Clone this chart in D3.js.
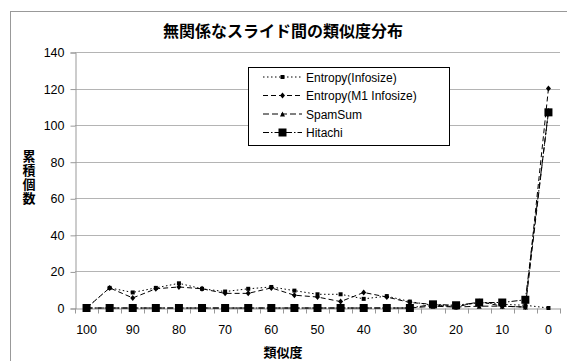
<!DOCTYPE html>
<html>
<head>
<meta charset="utf-8">
<script src="https://cdn.jsdelivr.net/npm/d3@7"></script>
<style>
  body { margin: 0; background: #fff; }
  text { font-family: "Liberation Sans", Arial, sans-serif; }
  .jp { font-family: "Noto Sans CJK JP", sans-serif; font-weight: bold; }
</style>
</head>
<body>
<svg id="chart" width="567" height="361"></svg>
<script>
// data
const categories = ['100', '95', '90', '85', '80', '75', '70', '65', '60', '55', '50', '45', '40', '35', '30', '25', '20', '15', '10', '5', '0']
const xLabels = ['100', '90', '80', '70', '60', '50', '40', '30', '20', '10', '0']
const entropyInfo = [0, 11, 8.5, 11, 13.5, 10.5, 9, 10.5, 11.5, 9.5, 7.5, 7.5, 5, 6.5, 3.5, 1.5, 1, 3, 2, 1.5, 0]
const entropyM1 = [0, 11, 5.5, 10.5, 11.5, 10.5, 8, 8, 11, 7, 6, 3.5, 8.5, 6, 3, 2, 0.5, 3.5, 1, 0.5, 120]
const spamSum = [0, 0, 0, 0, 0, 0, 0, 0, 0, 0, 0, 0, 0, 0, 0, 1, 0.5, 1, 1, 0.5, 108]
const hitachi = [0, 0, 0, 0, 0, 0, 0, 0, 0, 0, 0, 0, 0, 0, 0, 2, 1.5, 3, 3, 4.5, 107]
const yTicks = [0, 20, 40, 60, 80, 100, 120, 140]

const series = [
  { name: 'Entropy(Infosize)', values: entropyInfo, dash: '1.5,2.5', marker: 'sq', size: 4 },
  { name: 'Entropy(M1 Infosize)', values: entropyM1, dash: '5,3', marker: 'dia', size: 5 },
  { name: 'SpamSum', values: spamSum, dash: '6,3', marker: 'tri', size: 5 },
  { name: 'Hitachi', values: hitachi, dash: '6,2,1.5,2', marker: 'sq', size: 8 }
]

const svg = d3.select('#chart')

// outer frame
svg.append('rect')
  .attr('x', 10.5).attr('y', 11.5)
  .attr('width', 600).attr('height', 400)
  .attr('fill', 'none').attr('stroke', '#999')

const x = d3.scaleBand().domain(categories).range([75, 560])
const y = d3.scaleLinear().domain([0, 140]).range([308, 52])

// gridlines
svg.append('g').selectAll('line')
  .data(yTicks.filter(d => d > 0))
  .enter().append('line')
  .attr('x1', 75).attr('x2', 560)
  .attr('y1', d => Math.round(y(d)) + 0.5).attr('y2', d => Math.round(y(d)) + 0.5)
  .attr('stroke', '#b4b4b4')

// y axis
const yAxis = svg.append('g')
  .attr('transform', 'translate(75.5,0.5)')
  .call(d3.axisLeft(y).tickValues(yTicks).tickSize(5).tickPadding(6))
yAxis.select('.domain').attr('stroke', '#999')
yAxis.selectAll('.tick line').attr('stroke', '#999')
yAxis.selectAll('text').attr('font-size', '12.5px').attr('fill', '#000')

// x axis
const xAxis = svg.append('g')
  .attr('transform', 'translate(0,' + (Math.round(y(0)) + 0.5) + ')')
  .call(d3.axisBottom(x).tickValues(xLabels).tickSize(0).tickPadding(17))
xAxis.select('.domain').attr('stroke', '#999')
xAxis.selectAll('text').attr('font-size', '12.5px').attr('fill', '#000')
xAxis.selectAll('.bound')
  .data(categories.map(c => x(c)).concat([x.range()[1]]))
  .enter().append('line')
  .attr('x1', d => Math.round(d) + 0.5).attr('x2', d => Math.round(d) + 0.5)
  .attr('y1', 0).attr('y2', 5)
  .attr('stroke', '#999')

const cx = (d, i) => x(categories[i]) + x.bandwidth() / 2

function drawMarker(g, s, px, py) {
  const r = s.size / 2
  if (s.marker === 'sq') {
    g.append('rect').attr('x', px - r).attr('y', py - r)
      .attr('width', s.size).attr('height', s.size).attr('fill', '#000')
  } else if (s.marker === 'dia') {
    g.append('path').attr('d', `M${px},${py - r - 0.5}L${px + r},${py}L${px},${py + r + 0.5}L${px - r},${py}Z`).attr('fill', '#000')
  } else {
    g.append('path').attr('d', `M${px},${py - r}L${px + r},${py + r}L${px - r},${py + r}Z`).attr('fill', '#000')
  }
}

const line = d3.line().x(cx).y(d => y(d))

series.forEach(s => {
  const g = svg.append('g')
  g.append('path')
    .attr('d', line(s.values))
    .attr('fill', 'none')
    .attr('stroke', '#000')
    .attr('stroke-width', 1)
    .attr('stroke-dasharray', s.dash)
  s.values.forEach((v, i) => drawMarker(g, s, cx(v, i), y(v)))
})

// legend
const legend = svg.append('g')
legend.append('rect')
  .attr('x', 248.5).attr('y', 67.5)
  .attr('width', 201).attr('height', 78)
  .attr('fill', '#fff').attr('stroke', '#000')
series.forEach((s, i) => {
  const ly = 77 + i * 18.5
  legend.append('line')
    .attr('x1', 263).attr('x2', 302).attr('y1', ly).attr('y2', ly)
    .attr('stroke', '#000').attr('stroke-dasharray', s.dash)
  drawMarker(legend, s, 282.5, ly)
  legend.append('text')
    .attr('x', 306).attr('y', ly + 4.5)
    .attr('font-size', '12px')
    .text(s.name)
})

// titles
svg.append('text')
  .attr('class', 'jp')
  .attr('x', 283).attr('y', 37)
  .attr('text-anchor', 'middle')
  .attr('font-size', '16px')
  .text('無関係なスライド間の類似度分布')

svg.append('text')
  .attr('class', 'jp')
  .attr('x', 283).attr('y', 357)
  .attr('text-anchor', 'middle')
  .attr('font-size', '13px')
  .text('類似度')

svg.append('text')
  .attr('class', 'jp')
  .attr('x', 29).attr('y', 178)
  .attr('text-anchor', 'middle')
  .attr('font-size', '13px')
  .style('writing-mode', 'vertical-rl')
  .style('text-orientation', 'upright')
  .style('letter-spacing', '1px')
  .text('累積個数')
</script>
</body>
</html>
